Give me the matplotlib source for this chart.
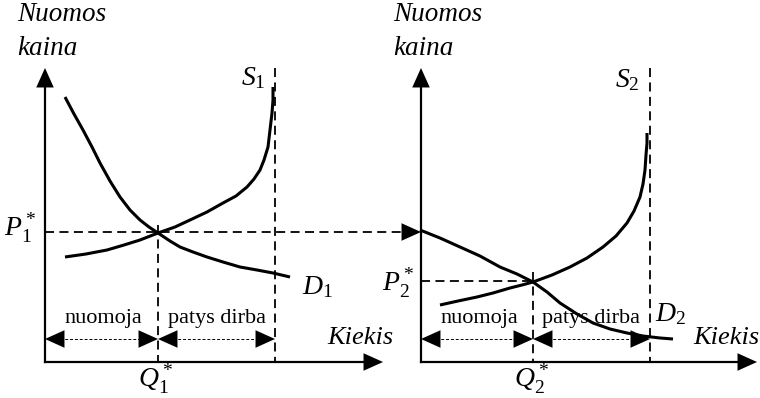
import matplotlib.pyplot as plt

plt.rcParams['font.family'] = 'Liberation Serif'
plt.rcParams['mathtext.fontset'] = 'custom'
plt.rcParams['mathtext.rm'] = 'Liberation Serif'
plt.rcParams['mathtext.it'] = 'Liberation Serif:italic'

# curve points (pixel space, y downwards)
d1_x = [65, 74, 83, 92, 100, 110, 120, 130, 140, 149, 158, 170, 180, 193, 207, 223, 240, 257, 273, 290]
d1_y = [97, 114, 130, 147, 163, 181, 197, 210, 220, 227, 233, 241, 247, 252, 257, 262, 267, 270, 273, 277]
s1_x = [65, 86, 107, 124, 140, 158, 175, 190, 207, 223, 236, 247, 254, 260, 264, 268, 270, 272, 273, 273]
s1_y = [257, 254, 250, 245, 240, 233, 227, 220, 212, 203, 196, 187, 179, 170, 160, 147, 130, 113, 100, 87]
d2_x = [420, 440, 460, 480, 500, 517, 533, 547, 560, 577, 593, 610, 627, 643, 660, 673]
d2_y = [230, 238, 247, 256, 267, 274, 282, 292, 303, 314, 323, 329, 333, 336, 338, 339]
s2_x = [440, 458, 477, 493, 510, 522, 533, 552, 570, 587, 603, 616, 627, 634, 640, 643, 645, 646, 647, 647]
s2_y = [305, 301, 297, 293, 288, 285, 282, 275, 267, 258, 247, 236, 223, 211, 197, 184, 170, 155, 143, 133]

q_star = [158, 533]
p_star = [232, 281]
s_cap = [275, 650]
y_axes = [45, 421]
x_base = 362
y_top = 68

fig = plt.figure(figsize=(7.6, 3.98), dpi=100)
ax = fig.add_axes([0, 0, 1, 1])
ax.set_xlim(0, 760)
ax.set_ylim(398, 0)
ax.axis('off')


def head(tip, frm, width=0.45):
    ax.annotate('', xy=tip, xytext=frm,
                arrowprops=dict(arrowstyle='-|>,head_length=1.0,head_width=%s' % width,
                                color='k', lw=0.01, shrinkA=0, shrinkB=0, mutation_scale=14))


dash = (0, (5, 3))
x_ends = [383, 757]
kiekis_x = [327, 693]
for i in range(2):
    x0 = y_axes[i]
    # axes
    ax.plot([x0, x0], [x_base, y_top + 12], color='k', lw=1.6)
    head((x0, y_top), (x0, y_top + 14))
    ax.plot([x0, x_ends[i] - 12], [x_base, x_base], color='k', lw=1.6)
    head((x_ends[i], x_base), (x_ends[i] - 14, x_base))
    # capacity line
    ax.plot([s_cap[i], s_cap[i]], [y_top, x_base], color='k', lw=1.3, ls=dash)
    # double arrows
    yd = 339
    ax.plot([x0 + 10, q_star[i] - 10], [yd, yd], color='k', lw=0.7, ls=(0, (3, 2)))
    ax.plot([q_star[i] + 10, s_cap[i] - 10], [yd, yd], color='k', lw=0.7, ls=(0, (3, 2)))
    head((x0, yd), (x0 + 14, yd))
    head((q_star[i], yd), (q_star[i] - 14, yd))
    head((q_star[i], yd), (q_star[i] + 14, yd))
    head((s_cap[i], yd), (s_cap[i] - 14, yd))
    ax.text((x0 + q_star[i]) / 2 + 2, 318, 'nuomoja', ha='center', va='center', fontsize=16)
    ax.text((q_star[i] + s_cap[i]) / 2, 318, 'patys dirba', ha='center', va='center', fontsize=16)
    # axis labels
    ax.text(x0 - 28, 2, 'Nuomos', ha='left', va='top', fontsize=19.5, style='italic')
    ax.text(x0 - 28, 36, 'kaina', ha='left', va='top', fontsize=19.5, style='italic')
    ax.text(kiekis_x[i], 338, 'Kiekis', ha='left', va='center', fontsize=19, style='italic')

# curves
ax.plot(d1_x, d1_y, color='k', lw=2.2, solid_capstyle='butt')
ax.plot(s1_x, s1_y, color='k', lw=2.2, solid_capstyle='butt')
ax.plot(d2_x, d2_y, color='k', lw=2.2, solid_capstyle='butt')
ax.plot(s2_x, s2_y, color='k', lw=2.2, solid_capstyle='butt')

# equilibrium guides
ax.plot([y_axes[0], y_axes[1] - 12], [p_star[0], p_star[0]], color='k', lw=1.3, ls=dash)
head((y_axes[1], p_star[0]), (y_axes[1] - 14, p_star[0]))
ax.plot([q_star[0], q_star[0]], [225, x_base], color='k', lw=1.3, ls=dash)
ax.plot([y_axes[1], q_star[1]], [p_star[1], p_star[1]], color='k', lw=1.3, ls=dash)
ax.plot([q_star[1], q_star[1]], [272, x_base], color='k', lw=1.3, ls=dash)

fs = 20
ax.text(4, 228, r'$P_1^*$', fontsize=fs, ha='left', va='center')
ax.text(382, 283, r'$P_2^*$', fontsize=fs, ha='left', va='center')
ax.text(138, 396, r'$Q_1^*$', fontsize=fs, ha='left', va='bottom')
ax.text(514, 396, r'$Q_2^*$', fontsize=fs, ha='left', va='bottom')
ax.text(241, 78, r'$S_1$', fontsize=fs, ha='left', va='center')
ax.text(615, 80, r'$S_2$', fontsize=fs, ha='left', va='center')
ax.text(302, 287, r'$D_1$', fontsize=fs, ha='left', va='center')
ax.text(655, 314, r'$D_2$', fontsize=fs, ha='left', va='center')

fig.savefig('out.png', dpi=100)
